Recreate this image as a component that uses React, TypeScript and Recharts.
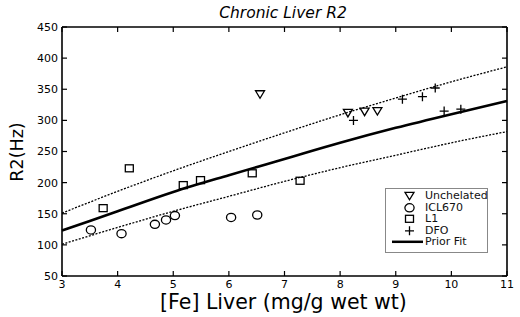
import { ComposedChart, Scatter, Line, XAxis, YAxis, Legend, Label } from "recharts"

const FONT = "DejaVu Sans, Arial, sans-serif"

// prior fit curve and its dotted limits
const fitX = [3, 4, 5, 6, 7, 8, 9, 10, 11]
const fitY = [123, 154, 185, 212, 238, 264, 288, 310, 331]
const upperY = [151, 186, 219, 250, 280, 309, 336, 362, 386]
const lowerY = [101, 128, 154, 178, 202, 224, 244, 264, 282]

const unchelatedX = [6.56, 8.14, 8.44, 8.67]
const unchelatedY = [342, 312, 314, 315]
const iclX = [3.52, 4.07, 4.67, 4.87, 5.03, 6.04, 6.51]
const iclY = [124, 118, 133, 140, 147, 144, 148]
const l1X = [3.74, 4.21, 5.18, 5.49, 6.42, 7.28]
const l1Y = [159, 223, 196, 204, 215, 203]
const dfoX = [8.24, 9.12, 9.48, 9.71, 9.87, 10.17]
const dfoY = [300, 334, 338, 352, 315, 318]

const xTicks = [3, 4, 5, 6, 7, 8, 9, 10, 11]
const yTicks = [50, 100, 150, 200, 250, 300, 350, 400, 450]

const legendNames = ["Unchelated", "ICL670", "L1", "DFO", "Prior Fit"]

const pts = (xs: number[], ys: number[]) => xs.map((x, i) => ({ x, y: ys[i] }))

const fitData = pts(fitX, fitY)
const upperData = pts(fitX, upperY)
const lowerData = pts(fitX, lowerY)

const MK = { fill: "none", stroke: "#000", strokeWidth: 1.3 }

const TriDown = ({ cx, cy }: any) => (
  <path d={`M${cx - 4.5},${cy - 3.5}L${cx + 4.5},${cy - 3.5}L${cx},${cy + 4}Z`} {...MK} />
)
const Circ = ({ cx, cy }: any) => <ellipse cx={cx} cy={cy} rx={4.6} ry={4.1} {...MK} />
const Sq = ({ cx, cy }: any) => <rect x={cx - 4} y={cy - 3.5} width={8} height={7} {...MK} />
const Plus = ({ cx, cy }: any) => (
  <path d={`M${cx - 4.5},${cy}L${cx + 4.5},${cy}M${cx},${cy - 4.5}L${cx},${cy + 4.5}`} {...MK} />
)

const shapes = [TriDown, Circ, Sq, Plus]

const LegendBox = () => (
  <div
    style={{
      width: 101,
      height: 62,
      border: "1px solid #888",
      background: "#fff",
      fontFamily: FONT,
      fontSize: 11,
      paddingTop: 1,
    }}
  >
    {legendNames.map((name, i) => {
      const S = shapes[i]
      return (
        <div key={name} style={{ display: "flex", alignItems: "center", height: 11.6 }}>
          <svg width={39} height={11.6} style={{ flex: "none" }}>
            {S ? <S cx={23.5} cy={5.8} /> : <line x1={6} x2={37} y1={5.8} y2={5.8} stroke="#000" strokeWidth={2.5} />}
          </svg>
          <span style={{ lineHeight: "11.6px", color: "#111" }}>{name}</span>
        </div>
      )
    })}
  </div>
)

// top and right axes only carry inward ticks, like a matlab box
const blankTick = () => <g />

const axisLine = { stroke: "#000", strokeWidth: 1.6 }
const tickLine = { stroke: "#000", strokeWidth: 1.2 }

export default function App() {
  return (
    <div>
      <style>{"body{margin:0}"}</style>
      <ComposedChart width={520} height={317} margin={{ top: 26, right: 12, bottom: 0, left: 0 }}>
        <XAxis
          dataKey="x"
          type="number"
          domain={[3, 11]}
          ticks={xTicks}
          height={41}
          tickSize={-5}
          tickMargin={9}
          axisLine={axisLine}
          tickLine={tickLine}
          tick={{ fill: "#000", fontSize: 11, fontFamily: FONT }}
        >
          <Label
            content={({ viewBox }: any) => (
              <text
                x={viewBox.x + viewBox.width / 2 - 1}
                y={308.5}
                textAnchor="middle"
                fontFamily={FONT}
                fontSize={20.5}
                fill="#000"
              >
                [Fe] Liver (mg/g wet wt)
              </text>
            )}
          />
        </XAxis>
        <XAxis
          xAxisId="top"
          dataKey="x"
          orientation="top"
          type="number"
          domain={[3, 11]}
          ticks={xTicks}
          interval={0}
          height={1}
          tickSize={-5}
          axisLine={axisLine}
          tickLine={tickLine}
          tick={blankTick}
        >
          <Label
            content={() => (
              <text x={283} y={18} textAnchor="middle" fontFamily={FONT} fontStyle="italic" fontSize={15.5} fill="#000">
                Chronic Liver R2
              </text>
            )}
          />
        </XAxis>
        <YAxis
          dataKey="y"
          type="number"
          domain={[50, 450]}
          ticks={yTicks}
          width={62}
          tickSize={-5}
          tickMargin={9}
          axisLine={axisLine}
          tickLine={tickLine}
          tick={{ fill: "#000", fontSize: 11, fontFamily: FONT }}
        >
          <Label
            content={() => (
              <text
                x={23}
                y={152}
                transform="rotate(-90 23 152)"
                textAnchor="middle"
                fontFamily={FONT}
                fontSize={17.5}
                fill="#000"
              >
                R2(Hz)
              </text>
            )}
          />
        </YAxis>
        <YAxis
          yAxisId="right"
          dataKey="y"
          orientation="right"
          type="number"
          domain={[50, 450]}
          ticks={yTicks}
          interval={0}
          width={1}
          tickSize={-5}
          axisLine={axisLine}
          tickLine={tickLine}
          tick={blankTick}
        />
        <Line data={upperData} dataKey="y" type="monotone" dot={false} stroke="#000" strokeWidth={1.3} strokeDasharray="2 1.5" isAnimationActive={false} />
        <Line data={lowerData} dataKey="y" type="monotone" dot={false} stroke="#000" strokeWidth={1.3} strokeDasharray="2 1.5" isAnimationActive={false} />
        <Line data={fitData} dataKey="y" type="monotone" dot={false} stroke="#000" strokeWidth={2.6} isAnimationActive={false} />
        <Scatter data={pts(unchelatedX, unchelatedY)} dataKey="y" shape={TriDown} isAnimationActive={false} />
        <Scatter data={pts(iclX, iclY)} dataKey="y" shape={Circ} isAnimationActive={false} />
        <Scatter data={pts(l1X, l1Y)} dataKey="y" shape={Sq} isAnimationActive={false} />
        {/* same domain as the main axes; hooking it here makes the box axes draw their ticks */}
        <Scatter data={pts(dfoX, dfoY)} dataKey="y" xAxisId="top" yAxisId="right" shape={Plus} isAnimationActive={false} />
        <Legend
          content={LegendBox}
          layout="horizontal"
          verticalAlign="middle"
          wrapperStyle={{ position: "absolute", left: 385, top: 188, width: 103, height: 64, bottom: "auto" }}
        />
      </ComposedChart>
    </div>
  )
}
